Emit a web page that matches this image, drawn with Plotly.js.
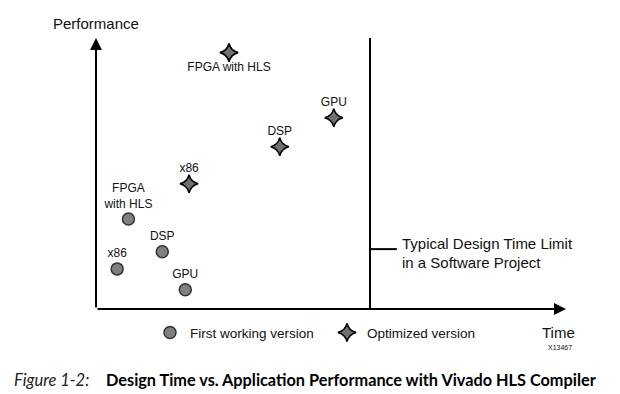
<!DOCTYPE html>
<html>
<head>
<meta charset="utf-8">
<script src="https://cdn.plot.ly/plotly-3.0.1.min.js"></script>
<style>html,body{margin:0;padding:0;background:#fff;}#chart{width:620px;height:394px;}</style>
</head>
<body>
<div id="chart"></div>
<script>
// Data (arbitrary units: time 0-100, performance 0-100)
const firstNames = ['x86', 'DSP', 'GPU', 'FPGA<br>with HLS'];
const firstTime  = [4.5, 14.1, 19.0, 6.9];
const firstPerf  = [14.8, 21.1, 7.1, 33.2];

const optNames = ['x86', 'DSP', 'GPU', 'FPGA with HLS'];
const optTime  = [19.8, 39.1, 50.6, 28.3];
const optPerf  = [46.2, 59.9, 70.6, 94.6];

const limitTime = 58.3;
const seriesNames = ['First working version', 'Optimized version'];

const FONT = 'Liberation Sans, Arial, sans-serif';
const px2x = p => (p - 96) / 470;      // paper x from pixel
const px2y = p => (309.3 - p) / 271;   // paper y from pixel

const traces = [
  {
    type: 'scatter', mode: 'markers+text', name: seriesNames[0],
    x: firstTime, y: firstPerf, text: firstNames,
    textposition: 'top center',
    textfont: {family: FONT, size: 12, color: '#111'},
    marker: {symbol: 'circle', size: 12, color: '#808080', line: {color: '#333', width: 1.5}},
    cliponaxis: false, hoverinfo: 'skip'
  },
  {
    type: 'scatter', mode: 'markers+text', name: seriesNames[1],
    x: optTime, y: optPerf, text: optNames,
    textposition: ['top center', 'top center', 'top center', 'bottom center'],
    textfont: {family: FONT, size: 12, color: '#111'},
    marker: {symbol: 'star-diamond', size: 13, color: '#707070', line: {color: '#000', width: 1.6}},
    cliponaxis: false, hoverinfo: 'skip'
  }
];

const arrowBase = {showarrow: true, arrowhead: 2, arrowsize: 1.2, arrowwidth: 2, arrowcolor: '#000',
  axref: 'x', ayref: 'y', xref: 'x', yref: 'y', text: '', standoff: 0, startstandoff: 0};

const txt = (x, y, text, size, anchor, family, color) => ({
  xref: 'paper', yref: 'paper', x: x, y: y, text: text, showarrow: false,
  xanchor: anchor, yanchor: 'middle', font: {family: family || FONT, size: size, color: color || '#111'}
});

const layout = {
  width: 620, height: 394,
  margin: {l: 96, r: 54, t: 38, b: 85, pad: 0},
  paper_bgcolor: '#fff', plot_bgcolor: 'rgba(0,0,0,0)',
  font: {family: FONT, color: '#111'},
  xaxis: {range: [0, 100], visible: false, fixedrange: true},
  yaxis: {range: [0, 100], visible: false, fixedrange: true},
  showlegend: true,
  legend: {orientation: 'h', x: px2x(150), xanchor: 'left', y: px2y(333), yanchor: 'middle',
    font: {family: FONT, size: 13.5, color: '#111'}, entrywidth: 132, entrywidthmode: 'pixels',
    bgcolor: 'rgba(0,0,0,0)', borderwidth: 0, itemclick: false},
  shapes: [
    {type: 'line', xref: 'x', yref: 'y', x0: limitTime, x1: limitTime, y0: 0, y1: 100.5, line: {color: '#000', width: 2}},
    {type: 'line', xref: 'x', yref: 'y', x0: limitTime, x1: 64.0, y0: 22.1, y1: 22.1, line: {color: '#000', width: 2}}
  ],
  annotations: [
    Object.assign({}, arrowBase, {x: 0, y: 100, ax: 0, ay: 0}),
    Object.assign({}, arrowBase, {x: 100, y: 0, ax: 0, ay: 0}),
    txt(px2x(96), px2y(24), 'Performance', 15, 'center'),
    txt(px2x(558), px2y(333), 'Time', 15, 'center'),
    txt(px2x(560), px2y(348), 'X13467', 7, 'center'),
    txt(px2x(400), px2y(244), 'Typical Design Time Limit', 15, 'left'),
    txt(px2x(400), px2y(262.7), 'in a Software Project', 15, 'left'),
    txt(px2x(12), px2y(380), '<i>Figure 1-2:</i>', 16.5, 'left', 'Lato, sans-serif', '#222'),
    txt(px2x(104), px2y(380), '<b>Design Time vs. Application Performance with Vivado HLS Compiler</b>', 16.3, 'left', 'Lato, sans-serif', '#000')
  ]
};

Plotly.newPlot('chart', traces, layout, {displayModeBar: false, staticPlot: true});
</script>
</body>
</html>
